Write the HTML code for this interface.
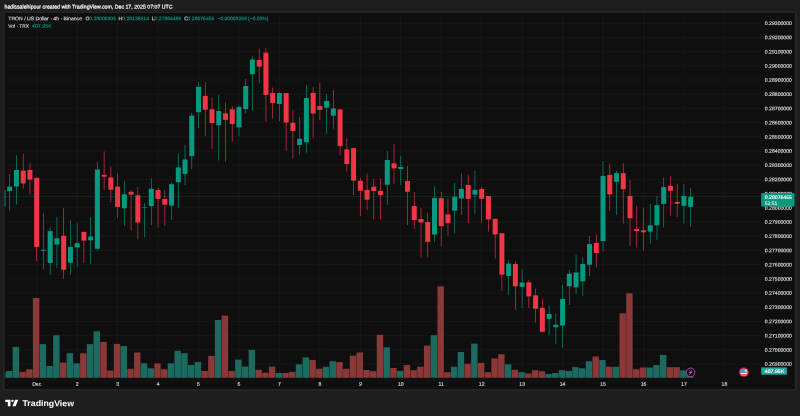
<!DOCTYPE html>
<html lang="en"><head><meta charset="utf-8"><title>TRON / US Dollar chart</title>
<style>html,body{margin:0;padding:0;background:#1e1e1e;overflow:hidden}svg text{white-space:pre}</style></head>
<body>
<svg width="800" height="416" viewBox="0 0 800 416" style="display:block">
<defs><clipPath id="cp"><rect x="4.7" y="12.9" width="790.1999999999999" height="376.3"/></clipPath></defs>
<rect width="800" height="416" fill="#1e1e1e"/>
<rect x="3.5" y="11.4" width="792.9999999999999" height="379.40000000000003" rx="1.6" fill="#282828"/>
<rect x="4.7" y="12.9" width="790.1999999999999" height="376.3" fill="#0f0f0f"/>
<g stroke="#1e1e1e" stroke-width="0.55" clip-path="url(#cp)">
<line x1="4.7" y1="23.20" x2="761" y2="23.20"/>
<line x1="4.7" y1="37.40" x2="761" y2="37.40"/>
<line x1="4.7" y1="51.60" x2="761" y2="51.60"/>
<line x1="4.7" y1="65.80" x2="761" y2="65.80"/>
<line x1="4.7" y1="80.00" x2="761" y2="80.00"/>
<line x1="4.7" y1="94.20" x2="761" y2="94.20"/>
<line x1="4.7" y1="108.40" x2="761" y2="108.40"/>
<line x1="4.7" y1="122.60" x2="761" y2="122.60"/>
<line x1="4.7" y1="136.80" x2="761" y2="136.80"/>
<line x1="4.7" y1="151.00" x2="761" y2="151.00"/>
<line x1="4.7" y1="165.20" x2="761" y2="165.20"/>
<line x1="4.7" y1="179.40" x2="761" y2="179.40"/>
<line x1="4.7" y1="193.60" x2="761" y2="193.60"/>
<line x1="4.7" y1="207.80" x2="761" y2="207.80"/>
<line x1="4.7" y1="222.00" x2="761" y2="222.00"/>
<line x1="4.7" y1="236.20" x2="761" y2="236.20"/>
<line x1="4.7" y1="250.40" x2="761" y2="250.40"/>
<line x1="4.7" y1="264.60" x2="761" y2="264.60"/>
<line x1="4.7" y1="278.80" x2="761" y2="278.80"/>
<line x1="4.7" y1="293.00" x2="761" y2="293.00"/>
<line x1="4.7" y1="307.20" x2="761" y2="307.20"/>
<line x1="4.7" y1="321.40" x2="761" y2="321.40"/>
<line x1="4.7" y1="335.60" x2="761" y2="335.60"/>
<line x1="4.7" y1="349.80" x2="761" y2="349.80"/>
<line x1="4.7" y1="364.00" x2="761" y2="364.00"/>
<line x1="36.70" y1="12.9" x2="36.70" y2="377.8"/>
<line x1="77.15" y1="12.9" x2="77.15" y2="377.8"/>
<line x1="117.60" y1="12.9" x2="117.60" y2="377.8"/>
<line x1="158.06" y1="12.9" x2="158.06" y2="377.8"/>
<line x1="198.51" y1="12.9" x2="198.51" y2="377.8"/>
<line x1="238.96" y1="12.9" x2="238.96" y2="377.8"/>
<line x1="279.41" y1="12.9" x2="279.41" y2="377.8"/>
<line x1="319.86" y1="12.9" x2="319.86" y2="377.8"/>
<line x1="360.32" y1="12.9" x2="360.32" y2="377.8"/>
<line x1="400.77" y1="12.9" x2="400.77" y2="377.8"/>
<line x1="441.22" y1="12.9" x2="441.22" y2="377.8"/>
<line x1="481.67" y1="12.9" x2="481.67" y2="377.8"/>
<line x1="522.12" y1="12.9" x2="522.12" y2="377.8"/>
<line x1="562.58" y1="12.9" x2="562.58" y2="377.8"/>
<line x1="603.03" y1="12.9" x2="603.03" y2="377.8"/>
<line x1="643.48" y1="12.9" x2="643.48" y2="377.8"/>
<line x1="683.93" y1="12.9" x2="683.93" y2="377.8"/>
<line x1="724.38" y1="12.9" x2="724.38" y2="377.8"/>
</g>
<g clip-path="url(#cp)">
<rect x="-0.81" y="372.70" width="6.45" height="5.10" fill="#1c6a60"/>
<rect x="5.93" y="371.00" width="6.45" height="6.80" fill="#1c6a60"/>
<rect x="12.67" y="346.90" width="6.45" height="30.90" fill="#1c6a60"/>
<rect x="19.42" y="371.90" width="6.45" height="5.90" fill="#8a3838"/>
<rect x="26.16" y="369.20" width="6.45" height="8.60" fill="#8a3838"/>
<rect x="32.90" y="298.00" width="6.45" height="79.80" fill="#8a3838"/>
<rect x="39.64" y="344.10" width="6.45" height="33.70" fill="#1c6a60"/>
<rect x="46.38" y="366.00" width="6.45" height="11.80" fill="#1c6a60"/>
<rect x="53.13" y="335.20" width="6.45" height="42.60" fill="#1c6a60"/>
<rect x="59.87" y="362.60" width="6.45" height="15.20" fill="#8a3838"/>
<rect x="66.61" y="353.20" width="6.45" height="24.60" fill="#1c6a60"/>
<rect x="73.35" y="363.30" width="6.45" height="14.50" fill="#1c6a60"/>
<rect x="80.09" y="353.20" width="6.45" height="24.60" fill="#8a3838"/>
<rect x="86.84" y="344.10" width="6.45" height="33.70" fill="#1c6a60"/>
<rect x="93.58" y="331.30" width="6.45" height="46.50" fill="#1c6a60"/>
<rect x="100.32" y="341.90" width="6.45" height="35.90" fill="#8a3838"/>
<rect x="107.06" y="370.50" width="6.45" height="7.30" fill="#8a3838"/>
<rect x="113.80" y="343.90" width="6.45" height="33.90" fill="#8a3838"/>
<rect x="120.55" y="346.10" width="6.45" height="31.70" fill="#1c6a60"/>
<rect x="127.29" y="368.80" width="6.45" height="9.00" fill="#8a3838"/>
<rect x="134.03" y="352.50" width="6.45" height="25.30" fill="#8a3838"/>
<rect x="140.77" y="363.30" width="6.45" height="14.50" fill="#1c6a60"/>
<rect x="147.51" y="368.30" width="6.45" height="9.50" fill="#1c6a60"/>
<rect x="154.26" y="363.40" width="6.45" height="14.40" fill="#8a3838"/>
<rect x="161.00" y="369.20" width="6.45" height="8.60" fill="#8a3838"/>
<rect x="167.74" y="363.30" width="6.45" height="14.50" fill="#1c6a60"/>
<rect x="174.48" y="350.80" width="6.45" height="27.00" fill="#1c6a60"/>
<rect x="181.22" y="353.20" width="6.45" height="24.60" fill="#1c6a60"/>
<rect x="187.97" y="365.00" width="6.45" height="12.80" fill="#1c6a60"/>
<rect x="194.71" y="362.10" width="6.45" height="15.70" fill="#1c6a60"/>
<rect x="201.45" y="371.00" width="6.45" height="6.80" fill="#8a3838"/>
<rect x="208.19" y="355.90" width="6.45" height="21.90" fill="#8a3838"/>
<rect x="214.93" y="320.00" width="6.45" height="57.80" fill="#1c6a60"/>
<rect x="221.68" y="315.60" width="6.45" height="62.20" fill="#8a3838"/>
<rect x="228.42" y="371.00" width="6.45" height="6.80" fill="#8a3838"/>
<rect x="235.16" y="359.60" width="6.45" height="18.20" fill="#1c6a60"/>
<rect x="241.90" y="366.60" width="6.45" height="11.20" fill="#1c6a60"/>
<rect x="248.64" y="349.80" width="6.45" height="28.00" fill="#1c6a60"/>
<rect x="255.39" y="369.70" width="6.45" height="8.10" fill="#8a3838"/>
<rect x="262.13" y="372.70" width="6.45" height="5.10" fill="#8a3838"/>
<rect x="268.87" y="366.60" width="6.45" height="11.20" fill="#8a3838"/>
<rect x="275.61" y="373.00" width="6.45" height="4.80" fill="#1c6a60"/>
<rect x="282.35" y="373.00" width="6.45" height="4.80" fill="#8a3838"/>
<rect x="289.10" y="371.90" width="6.45" height="5.90" fill="#8a3838"/>
<rect x="295.84" y="364.30" width="6.45" height="13.50" fill="#1c6a60"/>
<rect x="302.58" y="357.40" width="6.45" height="20.40" fill="#1c6a60"/>
<rect x="309.32" y="359.90" width="6.45" height="17.90" fill="#8a3838"/>
<rect x="316.06" y="368.80" width="6.45" height="9.00" fill="#8a3838"/>
<rect x="322.81" y="366.80" width="6.45" height="11.00" fill="#1c6a60"/>
<rect x="329.55" y="361.20" width="6.45" height="16.60" fill="#1c6a60"/>
<rect x="336.29" y="362.10" width="6.45" height="15.70" fill="#8a3838"/>
<rect x="343.03" y="368.80" width="6.45" height="9.00" fill="#8a3838"/>
<rect x="349.77" y="355.70" width="6.45" height="22.10" fill="#8a3838"/>
<rect x="356.52" y="352.50" width="6.45" height="25.30" fill="#8a3838"/>
<rect x="363.26" y="370.00" width="6.45" height="7.80" fill="#8a3838"/>
<rect x="370.00" y="371.20" width="6.45" height="6.60" fill="#8a3838"/>
<rect x="376.74" y="334.80" width="6.45" height="43.00" fill="#8a3838"/>
<rect x="383.48" y="347.30" width="6.45" height="30.50" fill="#1c6a60"/>
<rect x="390.23" y="368.00" width="6.45" height="9.80" fill="#8a3838"/>
<rect x="396.97" y="371.00" width="6.45" height="6.80" fill="#1c6a60"/>
<rect x="403.71" y="365.00" width="6.45" height="12.80" fill="#8a3838"/>
<rect x="410.45" y="370.20" width="6.45" height="7.60" fill="#8a3838"/>
<rect x="417.19" y="366.80" width="6.45" height="11.00" fill="#8a3838"/>
<rect x="423.94" y="345.60" width="6.45" height="32.20" fill="#8a3838"/>
<rect x="430.68" y="335.20" width="6.45" height="42.60" fill="#1c6a60"/>
<rect x="437.42" y="286.30" width="6.45" height="91.50" fill="#8a3838"/>
<rect x="444.16" y="372.20" width="6.45" height="5.60" fill="#8a3838"/>
<rect x="450.90" y="366.60" width="6.45" height="11.20" fill="#1c6a60"/>
<rect x="457.65" y="352.00" width="6.45" height="25.80" fill="#1c6a60"/>
<rect x="464.39" y="363.80" width="6.45" height="14.00" fill="#8a3838"/>
<rect x="471.13" y="343.60" width="6.45" height="34.20" fill="#1c6a60"/>
<rect x="477.87" y="362.90" width="6.45" height="14.90" fill="#8a3838"/>
<rect x="484.61" y="372.20" width="6.45" height="5.60" fill="#8a3838"/>
<rect x="491.36" y="358.40" width="6.45" height="19.40" fill="#8a3838"/>
<rect x="498.10" y="354.20" width="6.45" height="23.60" fill="#8a3838"/>
<rect x="504.84" y="364.30" width="6.45" height="13.50" fill="#1c6a60"/>
<rect x="511.58" y="369.70" width="6.45" height="8.10" fill="#8a3838"/>
<rect x="518.32" y="372.20" width="6.45" height="5.60" fill="#1c6a60"/>
<rect x="525.07" y="373.50" width="6.45" height="4.30" fill="#8a3838"/>
<rect x="531.81" y="370.20" width="6.45" height="7.60" fill="#8a3838"/>
<rect x="538.55" y="371.30" width="6.45" height="6.50" fill="#8a3838"/>
<rect x="545.29" y="373.90" width="6.45" height="3.90" fill="#1c6a60"/>
<rect x="552.03" y="373.00" width="6.45" height="4.80" fill="#1c6a60"/>
<rect x="558.78" y="370.20" width="6.45" height="7.60" fill="#1c6a60"/>
<rect x="565.52" y="371.00" width="6.45" height="6.80" fill="#1c6a60"/>
<rect x="572.26" y="367.10" width="6.45" height="10.70" fill="#1c6a60"/>
<rect x="579.00" y="368.30" width="6.45" height="9.50" fill="#1c6a60"/>
<rect x="585.74" y="361.20" width="6.45" height="16.60" fill="#1c6a60"/>
<rect x="592.49" y="356.50" width="6.45" height="21.30" fill="#8a3838"/>
<rect x="599.23" y="360.00" width="6.45" height="17.80" fill="#1c6a60"/>
<rect x="605.97" y="366.70" width="6.45" height="11.10" fill="#8a3838"/>
<rect x="612.71" y="366.80" width="6.45" height="11.00" fill="#1c6a60"/>
<rect x="619.45" y="313.30" width="6.45" height="64.50" fill="#8a3838"/>
<rect x="626.20" y="293.20" width="6.45" height="84.60" fill="#8a3838"/>
<rect x="632.94" y="369.20" width="6.45" height="8.60" fill="#8a3838"/>
<rect x="639.68" y="367.50" width="6.45" height="10.30" fill="#8a3838"/>
<rect x="646.42" y="367.50" width="6.45" height="10.30" fill="#1c6a60"/>
<rect x="653.16" y="365.10" width="6.45" height="12.70" fill="#1c6a60"/>
<rect x="659.91" y="355.00" width="6.45" height="22.80" fill="#1c6a60"/>
<rect x="666.65" y="367.10" width="6.45" height="10.70" fill="#8a3838"/>
<rect x="673.39" y="367.10" width="6.45" height="10.70" fill="#8a3838"/>
<rect x="680.13" y="370.30" width="6.45" height="7.50" fill="#1c6a60"/>
<rect x="686.87" y="373.00" width="6.45" height="4.80" fill="#1c6a60"/>
<rect x="2.64" y="190.50" width="0.7" height="15.50" fill="#089981" fill-opacity="0.9"/>
<rect x="0.49" y="190.50" width="5" height="15.50" fill="#089981"/>
<rect x="9.38" y="174.20" width="0.7" height="36.60" fill="#089981" fill-opacity="0.9"/>
<rect x="7.23" y="186.60" width="5" height="4.40" fill="#089981"/>
<rect x="16.12" y="155.20" width="0.7" height="49.30" fill="#089981" fill-opacity="0.9"/>
<rect x="13.97" y="170.00" width="5" height="16.60" fill="#089981"/>
<rect x="22.87" y="154.00" width="0.7" height="34.80" fill="#f23645" fill-opacity="0.9"/>
<rect x="20.72" y="170.60" width="5" height="12.80" fill="#f23645"/>
<rect x="29.61" y="163.20" width="0.7" height="31.50" fill="#f23645" fill-opacity="0.9"/>
<rect x="27.46" y="170.00" width="5" height="9.60" fill="#f23645"/>
<rect x="36.35" y="177.90" width="0.7" height="83.10" fill="#f23645" fill-opacity="0.9"/>
<rect x="34.20" y="177.90" width="5" height="69.00" fill="#f23645"/>
<rect x="43.09" y="213.10" width="0.7" height="56.20" fill="#089981" fill-opacity="0.9"/>
<rect x="40.94" y="249.80" width="5" height="1.00" fill="#089981"/>
<rect x="49.83" y="227.30" width="0.7" height="47.90" fill="#089981" fill-opacity="0.9"/>
<rect x="47.68" y="231.10" width="5" height="31.90" fill="#089981"/>
<rect x="56.58" y="216.70" width="0.7" height="51.30" fill="#089981" fill-opacity="0.9"/>
<rect x="54.43" y="238.30" width="5" height="6.20" fill="#089981"/>
<rect x="63.32" y="208.20" width="0.7" height="70.50" fill="#f23645" fill-opacity="0.9"/>
<rect x="61.17" y="235.80" width="5" height="34.00" fill="#f23645"/>
<rect x="70.06" y="220.10" width="0.7" height="54.40" fill="#089981" fill-opacity="0.9"/>
<rect x="67.91" y="247.00" width="5" height="15.70" fill="#089981"/>
<rect x="76.80" y="223.10" width="0.7" height="44.10" fill="#089981" fill-opacity="0.9"/>
<rect x="74.65" y="243.20" width="5" height="4.30" fill="#089981"/>
<rect x="83.54" y="231.90" width="0.7" height="31.10" fill="#f23645" fill-opacity="0.9"/>
<rect x="81.39" y="231.90" width="5" height="8.70" fill="#f23645"/>
<rect x="90.29" y="217.20" width="0.7" height="46.70" fill="#089981" fill-opacity="0.9"/>
<rect x="88.14" y="236.60" width="5" height="3.70" fill="#089981"/>
<rect x="97.03" y="161.90" width="0.7" height="88.50" fill="#089981" fill-opacity="0.9"/>
<rect x="94.88" y="169.50" width="5" height="79.20" fill="#089981"/>
<rect x="103.77" y="151.40" width="0.7" height="38.60" fill="#f23645" fill-opacity="0.9"/>
<rect x="101.62" y="174.80" width="5" height="1.90" fill="#f23645"/>
<rect x="110.51" y="166.60" width="0.7" height="35.70" fill="#f23645" fill-opacity="0.9"/>
<rect x="108.36" y="177.40" width="5" height="12.30" fill="#f23645"/>
<rect x="117.25" y="172.80" width="0.7" height="44.80" fill="#f23645" fill-opacity="0.9"/>
<rect x="115.10" y="186.60" width="5" height="20.40" fill="#f23645"/>
<rect x="124.00" y="180.70" width="0.7" height="45.10" fill="#089981" fill-opacity="0.9"/>
<rect x="121.85" y="194.30" width="5" height="14.00" fill="#089981"/>
<rect x="130.74" y="190.10" width="0.7" height="40.30" fill="#f23645" fill-opacity="0.9"/>
<rect x="128.59" y="191.80" width="5" height="2.80" fill="#f23645"/>
<rect x="137.48" y="187.00" width="0.7" height="52.30" fill="#f23645" fill-opacity="0.9"/>
<rect x="135.33" y="195.20" width="5" height="27.20" fill="#f23645"/>
<rect x="144.22" y="203.20" width="0.7" height="34.00" fill="#089981" fill-opacity="0.9"/>
<rect x="142.07" y="207.10" width="5" height="0.60" fill="#089981"/>
<rect x="150.96" y="178.30" width="0.7" height="46.80" fill="#089981" fill-opacity="0.9"/>
<rect x="148.81" y="188.80" width="5" height="17.30" fill="#089981"/>
<rect x="157.71" y="188.00" width="0.7" height="39.60" fill="#f23645" fill-opacity="0.9"/>
<rect x="155.56" y="190.10" width="5" height="8.90" fill="#f23645"/>
<rect x="164.45" y="190.10" width="0.7" height="35.70" fill="#f23645" fill-opacity="0.9"/>
<rect x="162.30" y="199.00" width="5" height="5.70" fill="#f23645"/>
<rect x="171.19" y="182.50" width="0.7" height="37.40" fill="#089981" fill-opacity="0.9"/>
<rect x="169.04" y="184.20" width="5" height="21.40" fill="#089981"/>
<rect x="177.93" y="153.60" width="0.7" height="54.20" fill="#089981" fill-opacity="0.9"/>
<rect x="175.78" y="167.40" width="5" height="14.80" fill="#089981"/>
<rect x="184.67" y="144.80" width="0.7" height="40.20" fill="#089981" fill-opacity="0.9"/>
<rect x="182.52" y="159.50" width="5" height="14.30" fill="#089981"/>
<rect x="191.42" y="113.00" width="0.7" height="56.00" fill="#089981" fill-opacity="0.9"/>
<rect x="189.27" y="115.60" width="5" height="40.50" fill="#089981"/>
<rect x="198.16" y="82.20" width="0.7" height="46.00" fill="#089981" fill-opacity="0.9"/>
<rect x="196.01" y="86.90" width="5" height="25.30" fill="#089981"/>
<rect x="204.90" y="82.20" width="0.7" height="53.70" fill="#f23645" fill-opacity="0.9"/>
<rect x="202.75" y="95.90" width="5" height="13.80" fill="#f23645"/>
<rect x="211.64" y="97.40" width="0.7" height="51.60" fill="#f23645" fill-opacity="0.9"/>
<rect x="209.49" y="109.30" width="5" height="13.80" fill="#f23645"/>
<rect x="218.38" y="95.00" width="0.7" height="65.60" fill="#089981" fill-opacity="0.9"/>
<rect x="216.23" y="111.00" width="5" height="14.20" fill="#089981"/>
<rect x="225.13" y="102.40" width="0.7" height="59.10" fill="#f23645" fill-opacity="0.9"/>
<rect x="222.98" y="113.40" width="5" height="6.40" fill="#f23645"/>
<rect x="231.87" y="106.30" width="0.7" height="35.10" fill="#f23645" fill-opacity="0.9"/>
<rect x="229.72" y="109.30" width="5" height="14.70" fill="#f23645"/>
<rect x="238.61" y="105.50" width="0.7" height="30.70" fill="#089981" fill-opacity="0.9"/>
<rect x="236.46" y="107.10" width="5" height="20.20" fill="#089981"/>
<rect x="245.35" y="79.10" width="0.7" height="34.20" fill="#089981" fill-opacity="0.9"/>
<rect x="243.20" y="86.10" width="5" height="23.00" fill="#089981"/>
<rect x="252.09" y="56.10" width="0.7" height="54.40" fill="#089981" fill-opacity="0.9"/>
<rect x="249.94" y="59.50" width="5" height="14.70" fill="#089981"/>
<rect x="258.84" y="48.50" width="0.7" height="35.00" fill="#f23645" fill-opacity="0.9"/>
<rect x="256.69" y="60.00" width="5" height="6.60" fill="#f23645"/>
<rect x="265.58" y="48.20" width="0.7" height="73.40" fill="#f23645" fill-opacity="0.9"/>
<rect x="263.43" y="52.70" width="5" height="42.20" fill="#f23645"/>
<rect x="272.32" y="87.60" width="0.7" height="30.70" fill="#f23645" fill-opacity="0.9"/>
<rect x="270.17" y="93.10" width="5" height="9.90" fill="#f23645"/>
<rect x="279.06" y="92.00" width="0.7" height="29.10" fill="#089981" fill-opacity="0.9"/>
<rect x="276.91" y="93.10" width="5" height="10.90" fill="#089981"/>
<rect x="285.80" y="93.10" width="0.7" height="57.80" fill="#f23645" fill-opacity="0.9"/>
<rect x="283.65" y="93.10" width="5" height="29.40" fill="#f23645"/>
<rect x="292.55" y="109.90" width="0.7" height="48.50" fill="#f23645" fill-opacity="0.9"/>
<rect x="290.40" y="122.80" width="5" height="8.10" fill="#f23645"/>
<rect x="299.29" y="116.90" width="0.7" height="37.90" fill="#089981" fill-opacity="0.9"/>
<rect x="297.14" y="138.80" width="5" height="6.20" fill="#089981"/>
<rect x="306.03" y="85.00" width="0.7" height="67.60" fill="#089981" fill-opacity="0.9"/>
<rect x="303.88" y="97.90" width="5" height="44.30" fill="#089981"/>
<rect x="312.77" y="86.90" width="0.7" height="51.60" fill="#f23645" fill-opacity="0.9"/>
<rect x="310.62" y="93.00" width="5" height="20.60" fill="#f23645"/>
<rect x="319.51" y="82.70" width="0.7" height="37.30" fill="#f23645" fill-opacity="0.9"/>
<rect x="317.36" y="106.00" width="5" height="3.90" fill="#f23645"/>
<rect x="326.26" y="94.00" width="0.7" height="39.80" fill="#089981" fill-opacity="0.9"/>
<rect x="324.11" y="100.90" width="5" height="6.80" fill="#089981"/>
<rect x="333.00" y="90.10" width="0.7" height="38.60" fill="#089981" fill-opacity="0.9"/>
<rect x="330.85" y="108.50" width="5" height="7.30" fill="#089981"/>
<rect x="339.74" y="109.40" width="0.7" height="45.90" fill="#f23645" fill-opacity="0.9"/>
<rect x="337.59" y="109.40" width="5" height="36.70" fill="#f23645"/>
<rect x="346.48" y="138.50" width="0.7" height="33.00" fill="#f23645" fill-opacity="0.9"/>
<rect x="344.33" y="149.40" width="5" height="14.60" fill="#f23645"/>
<rect x="353.22" y="148.10" width="0.7" height="47.00" fill="#f23645" fill-opacity="0.9"/>
<rect x="351.07" y="148.10" width="5" height="32.50" fill="#f23645"/>
<rect x="359.97" y="177.80" width="0.7" height="38.20" fill="#f23645" fill-opacity="0.9"/>
<rect x="357.82" y="180.80" width="5" height="9.90" fill="#f23645"/>
<rect x="366.71" y="173.50" width="0.7" height="36.60" fill="#f23645" fill-opacity="0.9"/>
<rect x="364.56" y="189.90" width="5" height="9.80" fill="#f23645"/>
<rect x="373.45" y="179.00" width="0.7" height="40.50" fill="#f23645" fill-opacity="0.9"/>
<rect x="371.30" y="186.70" width="5" height="4.30" fill="#f23645"/>
<rect x="380.19" y="178.50" width="0.7" height="41.00" fill="#f23645" fill-opacity="0.9"/>
<rect x="378.04" y="190.90" width="5" height="4.20" fill="#f23645"/>
<rect x="386.93" y="151.00" width="0.7" height="53.80" fill="#089981" fill-opacity="0.9"/>
<rect x="384.78" y="160.00" width="5" height="24.70" fill="#089981"/>
<rect x="393.68" y="144.00" width="0.7" height="40.20" fill="#f23645" fill-opacity="0.9"/>
<rect x="391.53" y="163.30" width="5" height="5.10" fill="#f23645"/>
<rect x="400.42" y="155.80" width="0.7" height="29.40" fill="#089981" fill-opacity="0.9"/>
<rect x="398.27" y="167.00" width="5" height="2.00" fill="#089981"/>
<rect x="407.16" y="165.90" width="0.7" height="59.10" fill="#f23645" fill-opacity="0.9"/>
<rect x="405.01" y="181.00" width="5" height="10.80" fill="#f23645"/>
<rect x="413.90" y="192.00" width="0.7" height="37.00" fill="#f23645" fill-opacity="0.9"/>
<rect x="411.75" y="206.00" width="5" height="14.00" fill="#f23645"/>
<rect x="420.64" y="207.70" width="0.7" height="50.10" fill="#f23645" fill-opacity="0.9"/>
<rect x="418.49" y="219.00" width="5" height="3.50" fill="#f23645"/>
<rect x="427.39" y="212.70" width="0.7" height="44.60" fill="#f23645" fill-opacity="0.9"/>
<rect x="425.24" y="222.00" width="5" height="19.90" fill="#f23645"/>
<rect x="434.13" y="186.40" width="0.7" height="55.50" fill="#089981" fill-opacity="0.9"/>
<rect x="431.98" y="198.10" width="5" height="36.50" fill="#089981"/>
<rect x="440.87" y="192.00" width="0.7" height="54.10" fill="#f23645" fill-opacity="0.9"/>
<rect x="438.72" y="198.10" width="5" height="28.10" fill="#f23645"/>
<rect x="447.61" y="198.80" width="0.7" height="37.00" fill="#f23645" fill-opacity="0.9"/>
<rect x="445.46" y="214.40" width="5" height="8.80" fill="#f23645"/>
<rect x="454.35" y="183.00" width="0.7" height="50.40" fill="#089981" fill-opacity="0.9"/>
<rect x="452.20" y="196.80" width="5" height="13.90" fill="#089981"/>
<rect x="461.10" y="173.40" width="0.7" height="41.50" fill="#089981" fill-opacity="0.9"/>
<rect x="458.95" y="188.90" width="5" height="9.60" fill="#089981"/>
<rect x="467.84" y="174.60" width="0.7" height="48.60" fill="#f23645" fill-opacity="0.9"/>
<rect x="465.69" y="185.00" width="5" height="13.90" fill="#f23645"/>
<rect x="474.58" y="170.90" width="0.7" height="42.70" fill="#089981" fill-opacity="0.9"/>
<rect x="472.43" y="189.80" width="5" height="4.80" fill="#089981"/>
<rect x="481.32" y="187.20" width="0.7" height="35.80" fill="#f23645" fill-opacity="0.9"/>
<rect x="479.17" y="188.90" width="5" height="10.00" fill="#f23645"/>
<rect x="488.06" y="196.00" width="0.7" height="35.60" fill="#f23645" fill-opacity="0.9"/>
<rect x="485.91" y="196.00" width="5" height="23.40" fill="#f23645"/>
<rect x="494.81" y="218.80" width="0.7" height="39.80" fill="#f23645" fill-opacity="0.9"/>
<rect x="492.66" y="218.80" width="5" height="15.70" fill="#f23645"/>
<rect x="501.55" y="233.20" width="0.7" height="57.80" fill="#f23645" fill-opacity="0.9"/>
<rect x="499.40" y="233.20" width="5" height="41.50" fill="#f23645"/>
<rect x="508.29" y="260.10" width="0.7" height="34.80" fill="#089981" fill-opacity="0.9"/>
<rect x="506.14" y="263.60" width="5" height="12.30" fill="#089981"/>
<rect x="515.03" y="261.40" width="0.7" height="48.50" fill="#f23645" fill-opacity="0.9"/>
<rect x="512.88" y="264.00" width="5" height="22.30" fill="#f23645"/>
<rect x="521.77" y="269.00" width="0.7" height="39.40" fill="#089981" fill-opacity="0.9"/>
<rect x="519.62" y="282.60" width="5" height="4.20" fill="#089981"/>
<rect x="528.52" y="280.10" width="0.7" height="27.80" fill="#f23645" fill-opacity="0.9"/>
<rect x="526.37" y="282.30" width="5" height="14.10" fill="#f23645"/>
<rect x="535.26" y="288.50" width="0.7" height="34.20" fill="#f23645" fill-opacity="0.9"/>
<rect x="533.11" y="295.30" width="5" height="13.40" fill="#f23645"/>
<rect x="542.00" y="298.60" width="0.7" height="33.70" fill="#f23645" fill-opacity="0.9"/>
<rect x="539.85" y="307.90" width="5" height="23.90" fill="#f23645"/>
<rect x="548.74" y="305.40" width="0.7" height="29.60" fill="#089981" fill-opacity="0.9"/>
<rect x="546.59" y="314.10" width="5" height="4.70" fill="#089981"/>
<rect x="555.48" y="313.80" width="0.7" height="30.30" fill="#089981" fill-opacity="0.9"/>
<rect x="553.33" y="324.70" width="5" height="2.50" fill="#089981"/>
<rect x="562.23" y="284.80" width="0.7" height="63.00" fill="#089981" fill-opacity="0.9"/>
<rect x="560.08" y="299.00" width="5" height="26.60" fill="#089981"/>
<rect x="568.97" y="270.00" width="0.7" height="35.00" fill="#089981" fill-opacity="0.9"/>
<rect x="566.82" y="273.70" width="5" height="12.60" fill="#089981"/>
<rect x="575.71" y="254.70" width="0.7" height="39.40" fill="#089981" fill-opacity="0.9"/>
<rect x="573.56" y="272.50" width="5" height="14.80" fill="#089981"/>
<rect x="582.45" y="257.20" width="0.7" height="38.60" fill="#089981" fill-opacity="0.9"/>
<rect x="580.30" y="264.00" width="5" height="17.30" fill="#089981"/>
<rect x="589.19" y="235.90" width="0.7" height="40.50" fill="#089981" fill-opacity="0.9"/>
<rect x="587.04" y="244.10" width="5" height="20.70" fill="#089981"/>
<rect x="595.94" y="234.20" width="0.7" height="33.10" fill="#f23645" fill-opacity="0.9"/>
<rect x="593.79" y="242.90" width="5" height="10.10" fill="#f23645"/>
<rect x="602.68" y="161.00" width="0.7" height="90.90" fill="#089981" fill-opacity="0.9"/>
<rect x="600.53" y="175.90" width="5" height="65.10" fill="#089981"/>
<rect x="609.42" y="163.20" width="0.7" height="47.70" fill="#f23645" fill-opacity="0.9"/>
<rect x="607.27" y="174.80" width="5" height="19.60" fill="#f23645"/>
<rect x="616.16" y="170.80" width="0.7" height="44.40" fill="#089981" fill-opacity="0.9"/>
<rect x="614.01" y="173.20" width="5" height="8.60" fill="#089981"/>
<rect x="622.90" y="163.20" width="0.7" height="60.40" fill="#f23645" fill-opacity="0.9"/>
<rect x="620.75" y="173.20" width="5" height="16.00" fill="#f23645"/>
<rect x="629.65" y="179.90" width="0.7" height="65.90" fill="#f23645" fill-opacity="0.9"/>
<rect x="627.50" y="195.90" width="5" height="22.30" fill="#f23645"/>
<rect x="636.39" y="205.80" width="0.7" height="41.80" fill="#f23645" fill-opacity="0.9"/>
<rect x="634.24" y="229.00" width="5" height="2.10" fill="#f23645"/>
<rect x="643.13" y="207.70" width="0.7" height="42.80" fill="#f23645" fill-opacity="0.9"/>
<rect x="640.98" y="230.30" width="5" height="2.00" fill="#f23645"/>
<rect x="649.87" y="203.50" width="0.7" height="40.30" fill="#089981" fill-opacity="0.9"/>
<rect x="647.72" y="225.30" width="5" height="6.30" fill="#089981"/>
<rect x="656.61" y="196.10" width="0.7" height="43.80" fill="#089981" fill-opacity="0.9"/>
<rect x="654.46" y="205.20" width="5" height="20.10" fill="#089981"/>
<rect x="663.36" y="177.90" width="0.7" height="49.50" fill="#089981" fill-opacity="0.9"/>
<rect x="661.21" y="187.10" width="5" height="16.80" fill="#089981"/>
<rect x="670.10" y="175.90" width="0.7" height="39.80" fill="#f23645" fill-opacity="0.9"/>
<rect x="667.95" y="186.00" width="5" height="4.80" fill="#f23645"/>
<rect x="676.84" y="184.10" width="0.7" height="32.70" fill="#f23645" fill-opacity="0.9"/>
<rect x="674.69" y="201.90" width="5" height="1.90" fill="#f23645"/>
<rect x="683.58" y="184.10" width="0.7" height="39.50" fill="#089981" fill-opacity="0.9"/>
<rect x="681.43" y="195.90" width="5" height="9.90" fill="#089981"/>
<rect x="690.32" y="188.10" width="0.7" height="38.90" fill="#089981" fill-opacity="0.9"/>
<rect x="688.17" y="196.90" width="5" height="10.00" fill="#089981"/>
</g>
<line x1="4.7" y1="196.6" x2="761.2" y2="196.6" stroke="#089981" stroke-width="0.5" stroke-opacity="0.45"/>
<g>
<text transform="translate(4.5 8.4) matrix(1 0.001 0 1 0 0)" font-family="Liberation Sans, sans-serif" font-size="5.4" fill="#ffffff" stroke="#ffffff" stroke-width="0.2" text-anchor="start" font-weight="normal" textLength="168" lengthAdjust="spacingAndGlyphs">hadissalehipour created with TradingView.com, Dec 17, 2025 07:07 UTC</text>
<text transform="translate(8.3 20.3) matrix(1 0.001 0 1 0 0)" font-family="Liberation Sans, sans-serif" font-size="5.13" fill="#dbdbdb" stroke="#dbdbdb" stroke-width="0.14" text-anchor="start" font-weight="normal" textLength="73.7" lengthAdjust="spacingAndGlyphs">TRON / US Dollar · 4h · Binance</text>
<text transform="translate(85.4 20.3) matrix(1 0.001 0 1 0 0)" font-family="Liberation Sans, sans-serif" font-size="5.13" fill="#dbdbdb" stroke="#dbdbdb" stroke-width="0.14" text-anchor="start" font-weight="normal">O</text>
<text transform="translate(89.2 20.3) matrix(1 0.001 0 1 0 0)" font-family="Liberation Sans, sans-serif" font-size="5.13" fill="#089981" stroke="#089981" stroke-width="0.14" text-anchor="start" font-weight="normal" textLength="26.8" lengthAdjust="spacingAndGlyphs">0.28006306</text>
<text transform="translate(118.6 20.3) matrix(1 0.001 0 1 0 0)" font-family="Liberation Sans, sans-serif" font-size="5.13" fill="#dbdbdb" stroke="#dbdbdb" stroke-width="0.14" text-anchor="start" font-weight="normal">H</text>
<text transform="translate(122.2 20.3) matrix(1 0.001 0 1 0 0)" font-family="Liberation Sans, sans-serif" font-size="5.13" fill="#089981" stroke="#089981" stroke-width="0.14" text-anchor="start" font-weight="normal" textLength="26.8" lengthAdjust="spacingAndGlyphs">0.28138514</text>
<text transform="translate(151.8 20.3) matrix(1 0.001 0 1 0 0)" font-family="Liberation Sans, sans-serif" font-size="5.13" fill="#dbdbdb" stroke="#dbdbdb" stroke-width="0.14" text-anchor="start" font-weight="normal">L</text>
<text transform="translate(154.6 20.3) matrix(1 0.001 0 1 0 0)" font-family="Liberation Sans, sans-serif" font-size="5.13" fill="#089981" stroke="#089981" stroke-width="0.14" text-anchor="start" font-weight="normal" textLength="26.8" lengthAdjust="spacingAndGlyphs">0.27864486</text>
<text transform="translate(184.2 20.3) matrix(1 0.001 0 1 0 0)" font-family="Liberation Sans, sans-serif" font-size="5.13" fill="#dbdbdb" stroke="#dbdbdb" stroke-width="0.14" text-anchor="start" font-weight="normal">C</text>
<text transform="translate(187.6 20.3) matrix(1 0.001 0 1 0 0)" font-family="Liberation Sans, sans-serif" font-size="5.13" fill="#089981" stroke="#089981" stroke-width="0.14" text-anchor="start" font-weight="normal" textLength="26.8" lengthAdjust="spacingAndGlyphs">0.28076455</text>
<text transform="translate(217.5 20.3) matrix(1 0.001 0 1 0 0)" font-family="Liberation Sans, sans-serif" font-size="5.13" fill="#089981" stroke="#089981" stroke-width="0.14" text-anchor="start" font-weight="normal" textLength="50.9" lengthAdjust="spacingAndGlyphs">−0.00008259 (−0.03%)</text>
<text transform="translate(8.3 27.7) matrix(1 0.001 0 1 0 0)" font-family="Liberation Sans, sans-serif" font-size="5.13" fill="#dbdbdb" stroke="#dbdbdb" stroke-width="0.14" text-anchor="start" font-weight="normal" textLength="20.7" lengthAdjust="spacingAndGlyphs">Vol · TRX</text>
<text transform="translate(31.9 27.7) matrix(1 0.001 0 1 0 0)" font-family="Liberation Sans, sans-serif" font-size="5.13" fill="#089981" stroke="#089981" stroke-width="0.14" text-anchor="start" font-weight="normal" textLength="20" lengthAdjust="spacingAndGlyphs">407.95K</text>
<text transform="translate(764.8 25.05) matrix(1 0.001 0 1 0 0)" font-family="Liberation Sans, sans-serif" font-size="5.13" fill="#dbdbdb" stroke="#dbdbdb" stroke-width="0.14" text-anchor="start" font-weight="normal" textLength="27.1" lengthAdjust="spacingAndGlyphs">0.29300000</text>
<text transform="translate(764.8 39.25) matrix(1 0.001 0 1 0 0)" font-family="Liberation Sans, sans-serif" font-size="5.13" fill="#dbdbdb" stroke="#dbdbdb" stroke-width="0.14" text-anchor="start" font-weight="normal" textLength="27.1" lengthAdjust="spacingAndGlyphs">0.29200000</text>
<text transform="translate(764.8 53.45) matrix(1 0.001 0 1 0 0)" font-family="Liberation Sans, sans-serif" font-size="5.13" fill="#dbdbdb" stroke="#dbdbdb" stroke-width="0.14" text-anchor="start" font-weight="normal" textLength="27.1" lengthAdjust="spacingAndGlyphs">0.29100000</text>
<text transform="translate(764.8 67.65) matrix(1 0.001 0 1 0 0)" font-family="Liberation Sans, sans-serif" font-size="5.13" fill="#dbdbdb" stroke="#dbdbdb" stroke-width="0.14" text-anchor="start" font-weight="normal" textLength="27.1" lengthAdjust="spacingAndGlyphs">0.29000000</text>
<text transform="translate(764.8 81.85) matrix(1 0.001 0 1 0 0)" font-family="Liberation Sans, sans-serif" font-size="5.13" fill="#dbdbdb" stroke="#dbdbdb" stroke-width="0.14" text-anchor="start" font-weight="normal" textLength="27.1" lengthAdjust="spacingAndGlyphs">0.28900000</text>
<text transform="translate(764.8 96.05) matrix(1 0.001 0 1 0 0)" font-family="Liberation Sans, sans-serif" font-size="5.13" fill="#dbdbdb" stroke="#dbdbdb" stroke-width="0.14" text-anchor="start" font-weight="normal" textLength="27.1" lengthAdjust="spacingAndGlyphs">0.28800000</text>
<text transform="translate(764.8 110.25) matrix(1 0.001 0 1 0 0)" font-family="Liberation Sans, sans-serif" font-size="5.13" fill="#dbdbdb" stroke="#dbdbdb" stroke-width="0.14" text-anchor="start" font-weight="normal" textLength="27.1" lengthAdjust="spacingAndGlyphs">0.28700000</text>
<text transform="translate(764.8 124.45) matrix(1 0.001 0 1 0 0)" font-family="Liberation Sans, sans-serif" font-size="5.13" fill="#dbdbdb" stroke="#dbdbdb" stroke-width="0.14" text-anchor="start" font-weight="normal" textLength="27.1" lengthAdjust="spacingAndGlyphs">0.28600000</text>
<text transform="translate(764.8 138.65) matrix(1 0.001 0 1 0 0)" font-family="Liberation Sans, sans-serif" font-size="5.13" fill="#dbdbdb" stroke="#dbdbdb" stroke-width="0.14" text-anchor="start" font-weight="normal" textLength="27.1" lengthAdjust="spacingAndGlyphs">0.28500000</text>
<text transform="translate(764.8 152.85) matrix(1 0.001 0 1 0 0)" font-family="Liberation Sans, sans-serif" font-size="5.13" fill="#dbdbdb" stroke="#dbdbdb" stroke-width="0.14" text-anchor="start" font-weight="normal" textLength="27.1" lengthAdjust="spacingAndGlyphs">0.28400000</text>
<text transform="translate(764.8 167.05) matrix(1 0.001 0 1 0 0)" font-family="Liberation Sans, sans-serif" font-size="5.13" fill="#dbdbdb" stroke="#dbdbdb" stroke-width="0.14" text-anchor="start" font-weight="normal" textLength="27.1" lengthAdjust="spacingAndGlyphs">0.28300000</text>
<text transform="translate(764.8 181.25) matrix(1 0.001 0 1 0 0)" font-family="Liberation Sans, sans-serif" font-size="5.13" fill="#dbdbdb" stroke="#dbdbdb" stroke-width="0.14" text-anchor="start" font-weight="normal" textLength="27.1" lengthAdjust="spacingAndGlyphs">0.28200000</text>
<text transform="translate(764.8 195.45) matrix(1 0.001 0 1 0 0)" font-family="Liberation Sans, sans-serif" font-size="5.13" fill="#dbdbdb" stroke="#dbdbdb" stroke-width="0.14" text-anchor="start" font-weight="normal" textLength="27.1" lengthAdjust="spacingAndGlyphs">0.28100000</text>
<text transform="translate(764.8 209.65) matrix(1 0.001 0 1 0 0)" font-family="Liberation Sans, sans-serif" font-size="5.13" fill="#dbdbdb" stroke="#dbdbdb" stroke-width="0.14" text-anchor="start" font-weight="normal" textLength="27.1" lengthAdjust="spacingAndGlyphs">0.28000000</text>
<text transform="translate(764.8 223.85) matrix(1 0.001 0 1 0 0)" font-family="Liberation Sans, sans-serif" font-size="5.13" fill="#dbdbdb" stroke="#dbdbdb" stroke-width="0.14" text-anchor="start" font-weight="normal" textLength="27.1" lengthAdjust="spacingAndGlyphs">0.27900000</text>
<text transform="translate(764.8 238.05) matrix(1 0.001 0 1 0 0)" font-family="Liberation Sans, sans-serif" font-size="5.13" fill="#dbdbdb" stroke="#dbdbdb" stroke-width="0.14" text-anchor="start" font-weight="normal" textLength="27.1" lengthAdjust="spacingAndGlyphs">0.27800000</text>
<text transform="translate(764.8 252.25) matrix(1 0.001 0 1 0 0)" font-family="Liberation Sans, sans-serif" font-size="5.13" fill="#dbdbdb" stroke="#dbdbdb" stroke-width="0.14" text-anchor="start" font-weight="normal" textLength="27.1" lengthAdjust="spacingAndGlyphs">0.27700000</text>
<text transform="translate(764.8 266.45) matrix(1 0.001 0 1 0 0)" font-family="Liberation Sans, sans-serif" font-size="5.13" fill="#dbdbdb" stroke="#dbdbdb" stroke-width="0.14" text-anchor="start" font-weight="normal" textLength="27.1" lengthAdjust="spacingAndGlyphs">0.27600000</text>
<text transform="translate(764.8 280.65) matrix(1 0.001 0 1 0 0)" font-family="Liberation Sans, sans-serif" font-size="5.13" fill="#dbdbdb" stroke="#dbdbdb" stroke-width="0.14" text-anchor="start" font-weight="normal" textLength="27.1" lengthAdjust="spacingAndGlyphs">0.27500000</text>
<text transform="translate(764.8 294.85) matrix(1 0.001 0 1 0 0)" font-family="Liberation Sans, sans-serif" font-size="5.13" fill="#dbdbdb" stroke="#dbdbdb" stroke-width="0.14" text-anchor="start" font-weight="normal" textLength="27.1" lengthAdjust="spacingAndGlyphs">0.27400000</text>
<text transform="translate(764.8 309.05) matrix(1 0.001 0 1 0 0)" font-family="Liberation Sans, sans-serif" font-size="5.13" fill="#dbdbdb" stroke="#dbdbdb" stroke-width="0.14" text-anchor="start" font-weight="normal" textLength="27.1" lengthAdjust="spacingAndGlyphs">0.27300000</text>
<text transform="translate(764.8 323.25) matrix(1 0.001 0 1 0 0)" font-family="Liberation Sans, sans-serif" font-size="5.13" fill="#dbdbdb" stroke="#dbdbdb" stroke-width="0.14" text-anchor="start" font-weight="normal" textLength="27.1" lengthAdjust="spacingAndGlyphs">0.27200000</text>
<text transform="translate(764.8 337.45) matrix(1 0.001 0 1 0 0)" font-family="Liberation Sans, sans-serif" font-size="5.13" fill="#dbdbdb" stroke="#dbdbdb" stroke-width="0.14" text-anchor="start" font-weight="normal" textLength="27.1" lengthAdjust="spacingAndGlyphs">0.27100000</text>
<text transform="translate(764.8 351.65) matrix(1 0.001 0 1 0 0)" font-family="Liberation Sans, sans-serif" font-size="5.13" fill="#dbdbdb" stroke="#dbdbdb" stroke-width="0.14" text-anchor="start" font-weight="normal" textLength="27.1" lengthAdjust="spacingAndGlyphs">0.27000000</text>
<text transform="translate(764.8 365.85) matrix(1 0.001 0 1 0 0)" font-family="Liberation Sans, sans-serif" font-size="5.13" fill="#dbdbdb" stroke="#dbdbdb" stroke-width="0.14" text-anchor="start" font-weight="normal" textLength="27.1" lengthAdjust="spacingAndGlyphs">0.26900000</text>
<rect x="761.2" y="193.1" width="33.3" height="13.4" fill="#089981"/>
<text transform="translate(764.8 199.1) matrix(1 0.001 0 1 0 0)" font-family="Liberation Sans, sans-serif" font-size="5.13" fill="#ffffff" stroke="#ffffff" stroke-width="0.14" text-anchor="start" font-weight="normal" textLength="27.1" lengthAdjust="spacingAndGlyphs">0.28076455</text>
<text transform="translate(764.8 204.9) matrix(1 0.001 0 1 0 0)" font-family="Liberation Sans, sans-serif" font-size="5.13" fill="#e6f5f2" stroke="#e6f5f2" stroke-width="0.05" text-anchor="start" font-weight="normal" textLength="12.6" lengthAdjust="spacingAndGlyphs">52:51</text>
<rect x="761.2" y="367.4" width="25.7" height="7.3" fill="#26a69a"/>
<text transform="translate(764.8 372.9) matrix(1 0.001 0 1 0 0)" font-family="Liberation Sans, sans-serif" font-size="5.13" fill="#ffffff" stroke="#ffffff" stroke-width="0.14" text-anchor="start" font-weight="normal" textLength="19.3" lengthAdjust="spacingAndGlyphs">407.95K</text>
<text transform="translate(36.70 385.7) matrix(1 0.001 0 1 0 0)" font-family="Liberation Sans, sans-serif" font-size="5.13" fill="#dbdbdb" stroke="#dbdbdb" stroke-width="0.14" text-anchor="middle" font-weight="normal">Dec</text>
<text transform="translate(77.15 385.7) matrix(1 0.001 0 1 0 0)" font-family="Liberation Sans, sans-serif" font-size="5.13" fill="#dbdbdb" stroke="#dbdbdb" stroke-width="0.14" text-anchor="middle" font-weight="normal">2</text>
<text transform="translate(117.60 385.7) matrix(1 0.001 0 1 0 0)" font-family="Liberation Sans, sans-serif" font-size="5.13" fill="#dbdbdb" stroke="#dbdbdb" stroke-width="0.14" text-anchor="middle" font-weight="normal">3</text>
<text transform="translate(158.06 385.7) matrix(1 0.001 0 1 0 0)" font-family="Liberation Sans, sans-serif" font-size="5.13" fill="#dbdbdb" stroke="#dbdbdb" stroke-width="0.14" text-anchor="middle" font-weight="normal">4</text>
<text transform="translate(198.51 385.7) matrix(1 0.001 0 1 0 0)" font-family="Liberation Sans, sans-serif" font-size="5.13" fill="#dbdbdb" stroke="#dbdbdb" stroke-width="0.14" text-anchor="middle" font-weight="normal">5</text>
<text transform="translate(238.96 385.7) matrix(1 0.001 0 1 0 0)" font-family="Liberation Sans, sans-serif" font-size="5.13" fill="#dbdbdb" stroke="#dbdbdb" stroke-width="0.14" text-anchor="middle" font-weight="normal">6</text>
<text transform="translate(279.41 385.7) matrix(1 0.001 0 1 0 0)" font-family="Liberation Sans, sans-serif" font-size="5.13" fill="#dbdbdb" stroke="#dbdbdb" stroke-width="0.14" text-anchor="middle" font-weight="normal">7</text>
<text transform="translate(319.86 385.7) matrix(1 0.001 0 1 0 0)" font-family="Liberation Sans, sans-serif" font-size="5.13" fill="#dbdbdb" stroke="#dbdbdb" stroke-width="0.14" text-anchor="middle" font-weight="normal">8</text>
<text transform="translate(360.32 385.7) matrix(1 0.001 0 1 0 0)" font-family="Liberation Sans, sans-serif" font-size="5.13" fill="#dbdbdb" stroke="#dbdbdb" stroke-width="0.14" text-anchor="middle" font-weight="normal">9</text>
<text transform="translate(400.77 385.7) matrix(1 0.001 0 1 0 0)" font-family="Liberation Sans, sans-serif" font-size="5.13" fill="#dbdbdb" stroke="#dbdbdb" stroke-width="0.14" text-anchor="middle" font-weight="normal">10</text>
<text transform="translate(441.22 385.7) matrix(1 0.001 0 1 0 0)" font-family="Liberation Sans, sans-serif" font-size="5.13" fill="#dbdbdb" stroke="#dbdbdb" stroke-width="0.14" text-anchor="middle" font-weight="normal">11</text>
<text transform="translate(481.67 385.7) matrix(1 0.001 0 1 0 0)" font-family="Liberation Sans, sans-serif" font-size="5.13" fill="#dbdbdb" stroke="#dbdbdb" stroke-width="0.14" text-anchor="middle" font-weight="normal">12</text>
<text transform="translate(522.12 385.7) matrix(1 0.001 0 1 0 0)" font-family="Liberation Sans, sans-serif" font-size="5.13" fill="#dbdbdb" stroke="#dbdbdb" stroke-width="0.14" text-anchor="middle" font-weight="normal">13</text>
<text transform="translate(562.58 385.7) matrix(1 0.001 0 1 0 0)" font-family="Liberation Sans, sans-serif" font-size="5.13" fill="#dbdbdb" stroke="#dbdbdb" stroke-width="0.14" text-anchor="middle" font-weight="normal">14</text>
<text transform="translate(603.03 385.7) matrix(1 0.001 0 1 0 0)" font-family="Liberation Sans, sans-serif" font-size="5.13" fill="#dbdbdb" stroke="#dbdbdb" stroke-width="0.14" text-anchor="middle" font-weight="normal">15</text>
<text transform="translate(643.48 385.7) matrix(1 0.001 0 1 0 0)" font-family="Liberation Sans, sans-serif" font-size="5.13" fill="#dbdbdb" stroke="#dbdbdb" stroke-width="0.14" text-anchor="middle" font-weight="normal">16</text>
<text transform="translate(683.93 385.7) matrix(1 0.001 0 1 0 0)" font-family="Liberation Sans, sans-serif" font-size="5.13" fill="#dbdbdb" stroke="#dbdbdb" stroke-width="0.14" text-anchor="middle" font-weight="normal">17</text>
<text transform="translate(724.38 385.7) matrix(1 0.001 0 1 0 0)" font-family="Liberation Sans, sans-serif" font-size="5.13" fill="#dbdbdb" stroke="#dbdbdb" stroke-width="0.14" text-anchor="middle" font-weight="normal">18</text>
</g>
<circle cx="690.6" cy="372.3" r="4.3" fill="#0a0a0a" stroke="#a83fbd" stroke-width="1"/>
<path d="M691.9 369.9 L688.9 372.9 L690.5 372.9 L689.4 374.9 L692.3 371.8 L690.8 371.8 Z" fill="#c24fd6" stroke="#c24fd6" stroke-width="0.3" stroke-linejoin="round"/>
<g><clipPath id="fc"><circle cx="743.9" cy="372.3" r="3.6"/></clipPath>
<circle cx="743.9" cy="372.3" r="5.0" fill="#b01c28" />
<g clip-path="url(#fc)"><rect x="739" y="367" width="10" height="10" fill="#f6f6f6"/>
<rect x="739" y="371.4" width="10" height="1.3" fill="#ef4a4a"/>
<rect x="739" y="373.9" width="10" height="3" fill="#ef5350"/>
<rect x="739" y="367" width="10" height="3.1" fill="#f08080"/>
<rect x="739" y="367" width="5.8" height="6" fill="#4a93f0"/></g></g>
<g fill="#ffffff">
<path d="M5.3 399.8 H10.5 V406.2 H7.8 V402.1 H5.3 Z"/>
<circle cx="12.5" cy="400.9" r="1.15"/>
<path d="M15.1 399.8 H18.3 L15.6 406.2 H12.5 Z"/>
</g>
<text transform="translate(22.5 406.1) matrix(1 0.001 0 1 0 0)" font-family="Liberation Sans, sans-serif" font-size="8.4" fill="#ffffff" stroke="#ffffff" stroke-width="0" text-anchor="start" font-weight="bold" textLength="51.5" lengthAdjust="spacingAndGlyphs">TradingView</text>
</svg>
</body></html>
